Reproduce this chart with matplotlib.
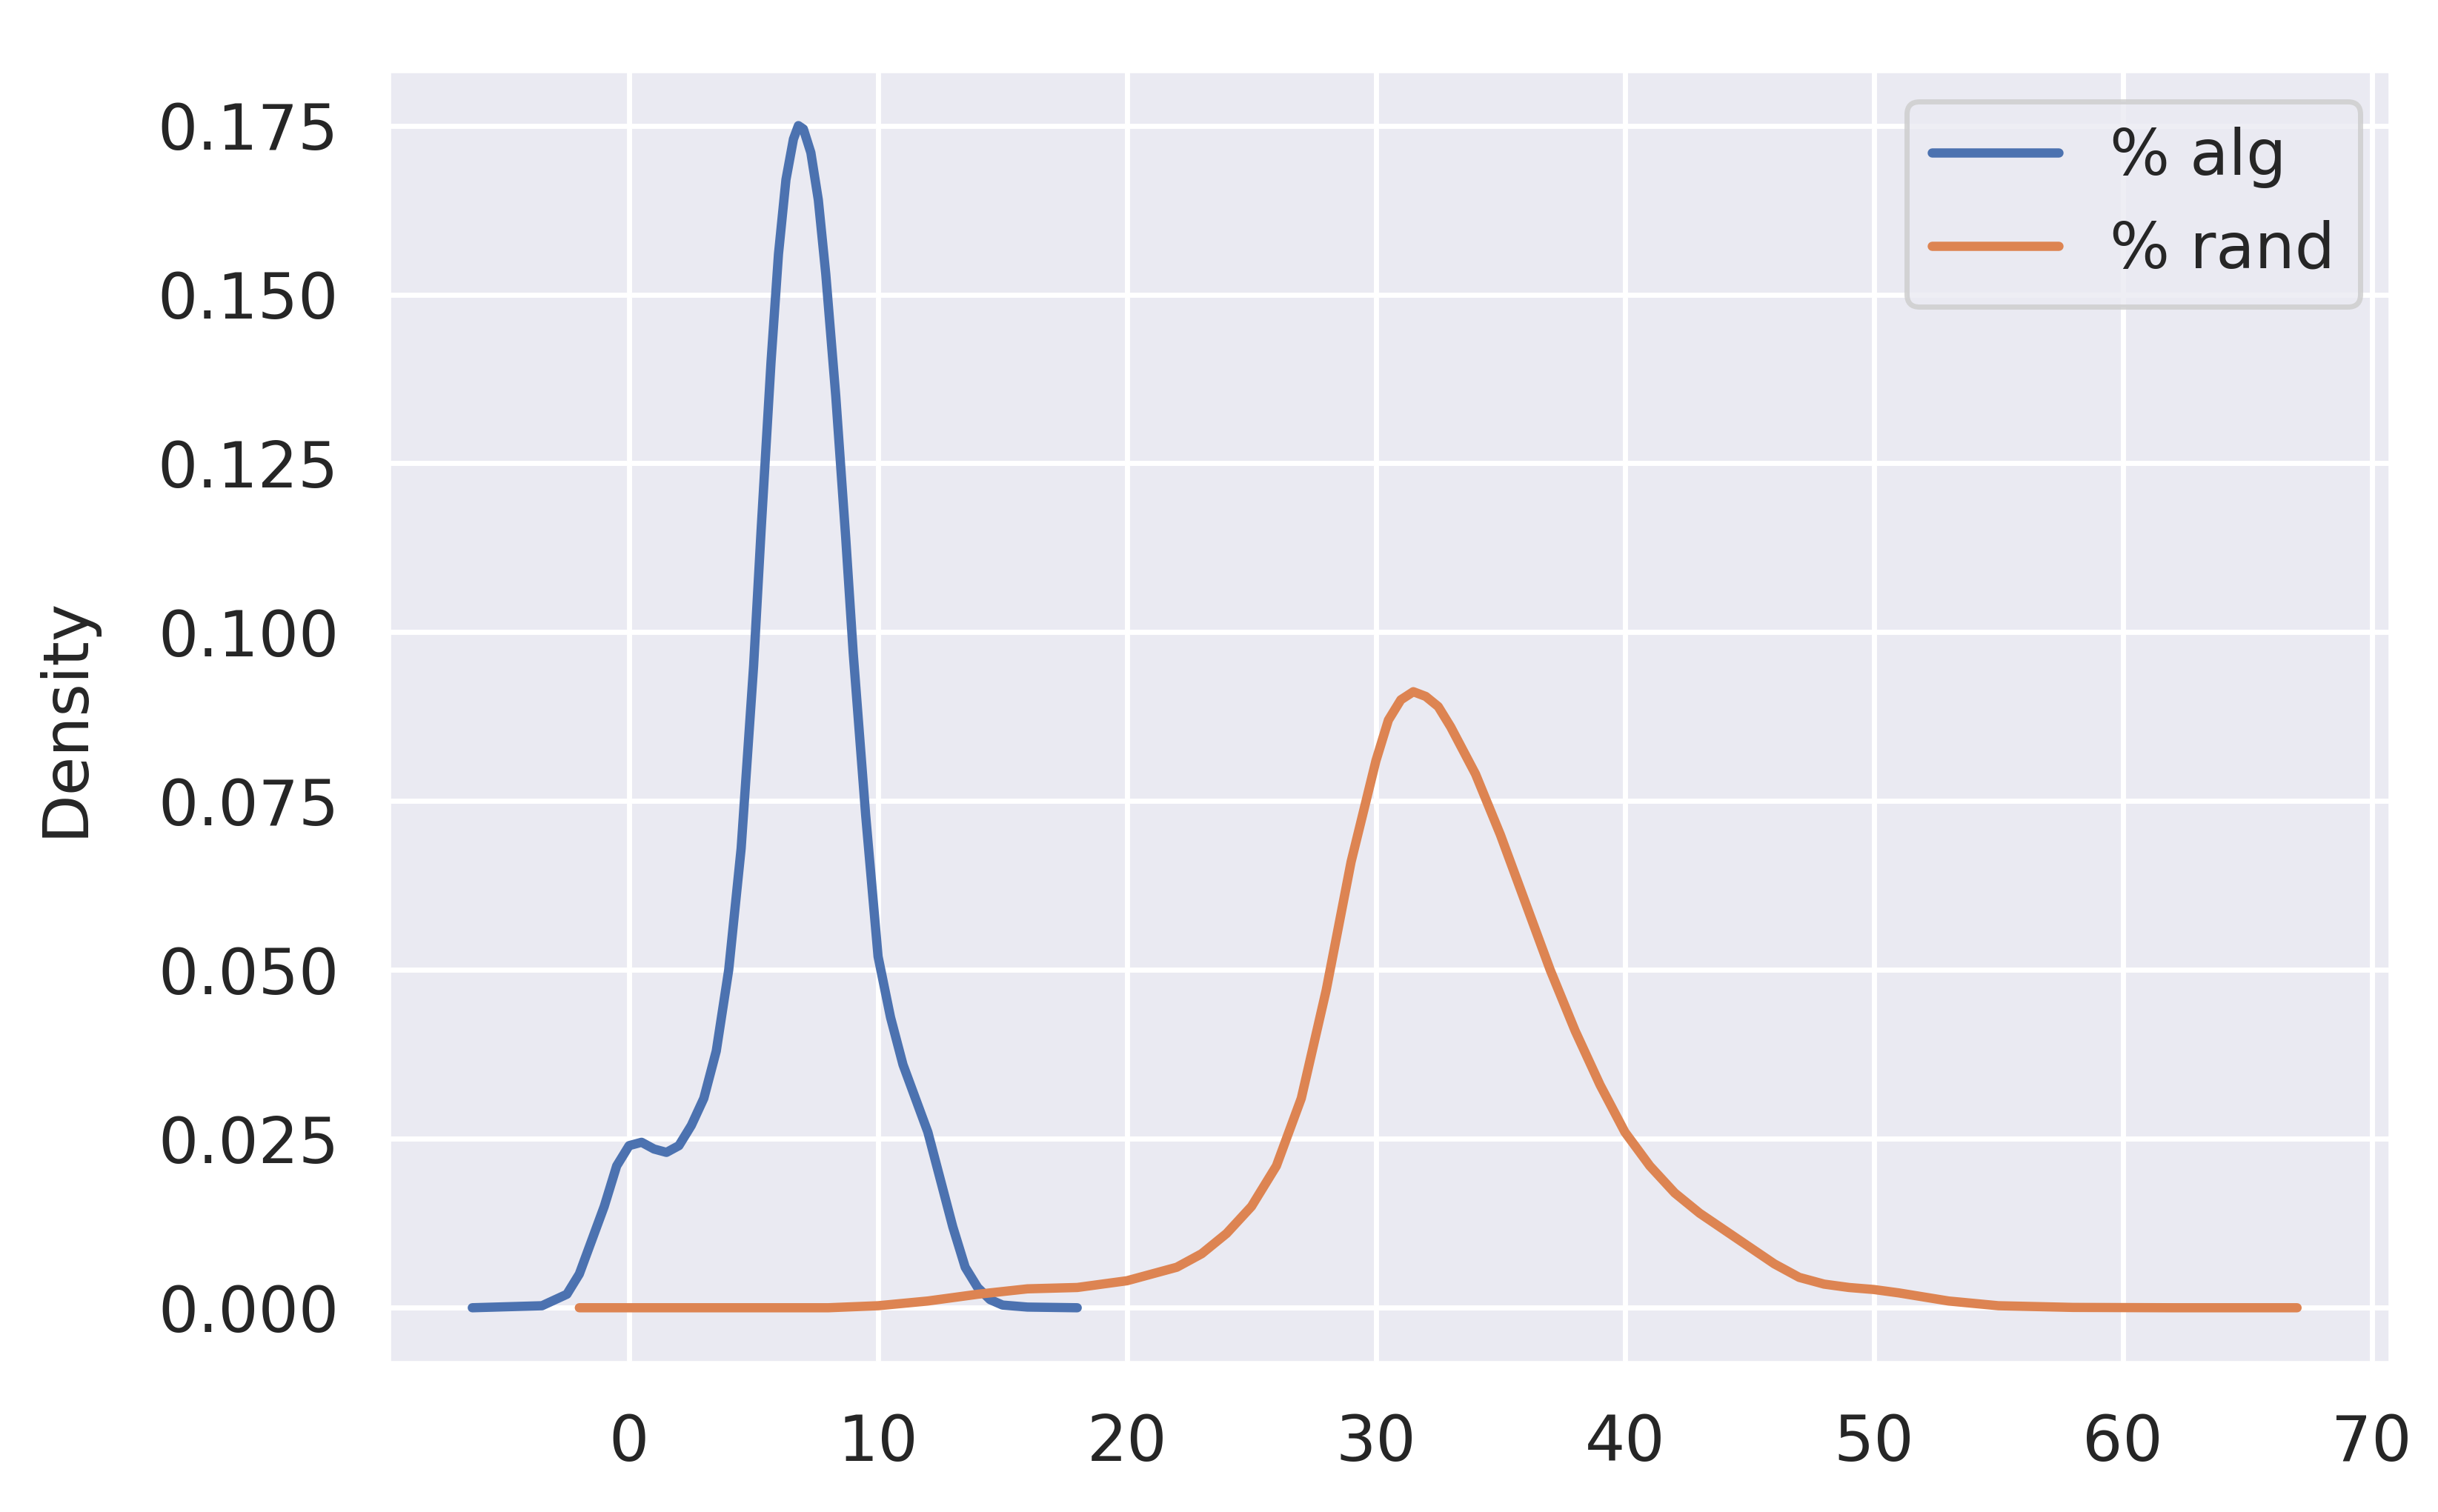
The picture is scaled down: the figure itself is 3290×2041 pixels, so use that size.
import matplotlib
matplotlib.use("Agg")
import matplotlib.pyplot as plt
import seaborn as sns

sns.set_theme(style="darkgrid")
plt.rcParams['font.family'] = ['DejaVu Sans']

alg_x = [-6.3, -3.5, -2.5, -2, -1.5, -1, -0.5, 0, 0.5, 1, 1.5, 2, 2.5, 3, 3.5, 4, 4.5, 5, 5.3, 5.7, 6, 6.3, 6.6, 6.8, 7.0, 7.3, 7.6, 7.9, 8.3, 8.7, 9, 9.5, 10, 10.5, 11, 11.5, 12, 12.5, 13, 13.5, 14, 14.5, 15, 16, 18]
alg_y = [0, 0.0003, 0.002, 0.005, 0.010, 0.015, 0.021, 0.024, 0.0245, 0.0235, 0.023, 0.024, 0.027, 0.031, 0.038, 0.050, 0.068, 0.095, 0.115, 0.140, 0.156, 0.167, 0.173, 0.175, 0.1745, 0.171, 0.164, 0.153, 0.135, 0.114, 0.097, 0.073, 0.052, 0.043, 0.036, 0.031, 0.026, 0.019, 0.012, 0.006, 0.003, 0.0012, 0.0004, 0.0001, 0]
rand_x = [-2, 8, 10, 12, 14, 16, 18, 20, 22, 23, 24, 25, 26, 27, 28, 29, 30, 30.5, 31, 31.5, 32, 32.5, 33, 34, 35, 36, 37, 38, 39, 40, 41, 42, 43, 44, 45, 46, 47, 48, 49, 50, 51, 52, 53, 55, 58, 62, 67]
rand_y = [0, 0, 0.0003, 0.001, 0.002, 0.0028, 0.003, 0.004, 0.006, 0.008, 0.011, 0.015, 0.021, 0.031, 0.047, 0.066, 0.081, 0.087, 0.090, 0.0912, 0.0905, 0.089, 0.086, 0.079, 0.070, 0.060, 0.050, 0.041, 0.033, 0.026, 0.021, 0.017, 0.014, 0.0115, 0.009, 0.0065, 0.0045, 0.0035, 0.003, 0.0027, 0.0022, 0.0016, 0.001, 0.0003, 0.00005, 0, 0]
labels = ["% alg", "% rand"]

fig = plt.figure(figsize=(6.58, 4.082), dpi=500)
ax = fig.add_axes([0.159, 0.098, 0.822, 0.856])
ax.plot(alg_x, alg_y, label=labels[0], lw=1.8)
ax.plot(rand_x, rand_y, label=labels[1], lw=1.8)
ax.set_xlim(-9.7, 70.8)
ax.set_ylim(-0.0083, 0.1833)
ax.set_xticks(range(0, 71, 10))
ax.set_yticks([0, 0.025, 0.05, 0.075, 0.1, 0.125, 0.15, 0.175])
ax.set_yticklabels(["0.000", "0.025", "0.050", "0.075", "0.100", "0.125", "0.150", "0.175"])
ax.tick_params(labelsize=12.3)
ax.set_ylabel("Density", fontsize=12.3, labelpad=12)
ax.legend(loc="upper right", fontsize=12.3)
fig.savefig("out.png")
